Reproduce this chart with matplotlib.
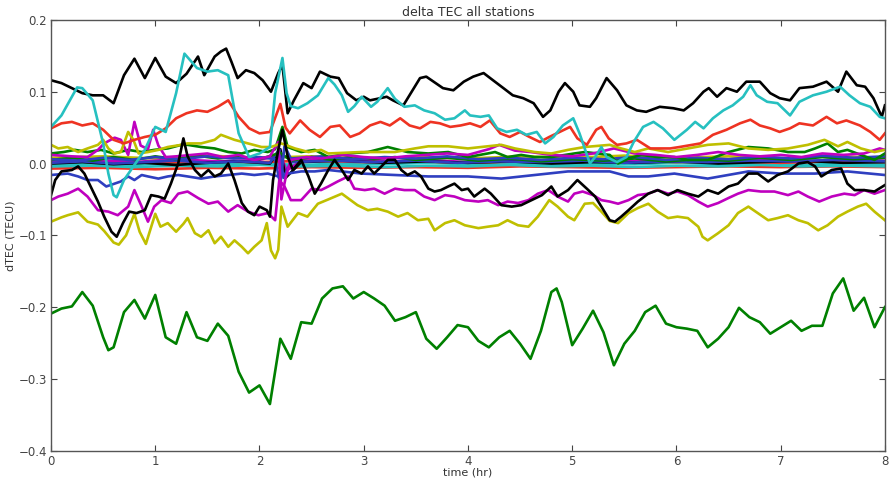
import matplotlib
matplotlib.use("Agg")
import matplotlib.pyplot as plt

# dTEC series per station: (time in hours, dTEC in TECU)
black_top = [(0, 0.116), (0.1, 0.112), (0.2, 0.105), (0.3, 0.098), (0.4, 0.095), (0.5, 0.095),
             (0.6, 0.084), (0.7, 0.123), (0.8, 0.146), (0.9, 0.119), (1.0, 0.147), (1.1, 0.121),
             (1.2, 0.112), (1.3, 0.125), (1.41, 0.149), (1.47, 0.123), (1.57, 0.149), (1.63, 0.156),
             (1.68, 0.16), (1.73, 0.142), (1.79, 0.119), (1.87, 0.13), (1.95, 0.126), (2.03, 0.116),
             (2.11, 0.1), (2.18, 0.126), (2.22, 0.137), (2.27, 0.07), (2.33, 0.088), (2.42, 0.112),
             (2.5, 0.105), (2.58, 0.128), (2.68, 0.121), (2.76, 0.119), (2.84, 0.098), (2.93, 0.088),
             (3.0, 0.093), (3.06, 0.088), (3.16, 0.091), (3.22, 0.093), (3.28, 0.088), (3.38, 0.081),
             (3.46, 0.1), (3.54, 0.119), (3.6, 0.121), (3.67, 0.114), (3.76, 0.105), (3.86, 0.102),
             (3.96, 0.114), (4.05, 0.121), (4.15, 0.126), (4.24, 0.116), (4.34, 0.105), (4.43, 0.095),
             (4.53, 0.091), (4.63, 0.084), (4.72, 0.065), (4.79, 0.074), (4.87, 0.1), (4.93, 0.112),
             (5.01, 0.1), (5.07, 0.081), (5.17, 0.079), (5.23, 0.091), (5.33, 0.119), (5.43, 0.102),
             (5.52, 0.081), (5.62, 0.074), (5.71, 0.072), (5.84, 0.079), (5.97, 0.077), (6.07, 0.074),
             (6.16, 0.084), (6.26, 0.1), (6.31, 0.105), (6.39, 0.093), (6.48, 0.105), (6.58, 0.1),
             (6.67, 0.114), (6.8, 0.114), (6.9, 0.098), (6.99, 0.091), (7.09, 0.088), (7.18, 0.105),
             (7.31, 0.107), (7.44, 0.114), (7.55, 0.1), (7.63, 0.128), (7.73, 0.109), (7.81, 0.107),
             (7.89, 0.091), (7.97, 0.065), (8.0, 0.081)]

cyan_big = [(0, 0.051), (0.1, 0.067), (0.2, 0.093), (0.25, 0.106), (0.3, 0.105), (0.4, 0.088),
            (0.5, 0.028), (0.55, -0.014), (0.6, -0.044), (0.63, -0.047), (0.7, -0.023), (0.8, -0.002),
            (0.9, 0.019), (1.0, 0.051), (1.1, 0.044), (1.2, 0.098), (1.28, 0.153), (1.4, 0.133),
            (1.5, 0.128), (1.6, 0.13), (1.7, 0.123), (1.8, 0.042), (1.9, 0.009), (2.0, 0.014),
            (2.1, 0.023), (2.15, 0.098), (2.22, 0.147), (2.26, 0.098), (2.3, 0.08), (2.37, 0.077),
            (2.46, 0.084), (2.56, 0.095), (2.66, 0.119), (2.72, 0.11), (2.79, 0.095), (2.85, 0.072),
            (2.91, 0.08), (2.98, 0.093), (3.07, 0.079), (3.13, 0.086), (3.23, 0.105), (3.3, 0.09),
            (3.39, 0.079), (3.49, 0.081), (3.58, 0.074), (3.68, 0.07), (3.78, 0.061), (3.87, 0.063),
            (3.97, 0.074), (4.02, 0.067), (4.12, 0.065), (4.2, 0.067), (4.28, 0.049), (4.37, 0.044),
            (4.47, 0.047), (4.56, 0.04), (4.66, 0.044), (4.74, 0.028), (4.82, 0.037), (4.91, 0.053),
            (5.01, 0.063), (5.07, 0.042), (5.17, 0.0), (5.22, 0.009), (5.28, 0.023), (5.33, 0.009),
            (5.43, 0.002), (5.52, 0.009), (5.59, 0.03), (5.68, 0.051), (5.78, 0.058), (5.87, 0.049),
            (5.98, 0.033), (6.1, 0.047), (6.18, 0.058), (6.26, 0.049), (6.35, 0.063), (6.45, 0.074),
            (6.54, 0.081), (6.64, 0.093), (6.71, 0.109), (6.77, 0.095), (6.87, 0.086), (6.97, 0.084),
            (7.09, 0.067), (7.18, 0.086), (7.31, 0.095), (7.44, 0.1), (7.57, 0.107), (7.66, 0.095),
            (7.76, 0.084), (7.86, 0.079), (7.95, 0.065), (8.0, 0.063)]

red_big = [(0, 0.049), (0.1, 0.056), (0.2, 0.058), (0.3, 0.053), (0.4, 0.056), (0.5, 0.047),
           (0.6, 0.033), (0.7, 0.028), (0.8, 0.033), (0.9, 0.037), (1.0, 0.04), (1.1, 0.049),
           (1.2, 0.063), (1.3, 0.07), (1.4, 0.074), (1.5, 0.072), (1.6, 0.079), (1.7, 0.088),
           (1.8, 0.065), (1.9, 0.049), (2.0, 0.042), (2.1, 0.044), (2.2, 0.083), (2.25, 0.05),
           (2.29, 0.042), (2.39, 0.06), (2.48, 0.047), (2.58, 0.037), (2.68, 0.051), (2.77, 0.053),
           (2.87, 0.037), (2.96, 0.042), (3.06, 0.053), (3.16, 0.058), (3.25, 0.053), (3.35, 0.063),
           (3.44, 0.053), (3.54, 0.049), (3.64, 0.058), (3.73, 0.056), (3.83, 0.051), (3.93, 0.053),
           (4.02, 0.056), (4.12, 0.051), (4.21, 0.06), (4.31, 0.042), (4.4, 0.037), (4.5, 0.044),
           (4.59, 0.037), (4.69, 0.03), (4.78, 0.037), (4.88, 0.044), (4.98, 0.051), (5.05, 0.035),
           (5.14, 0.026), (5.23, 0.047), (5.28, 0.051), (5.35, 0.035), (5.43, 0.026), (5.52, 0.028),
           (5.62, 0.033), (5.75, 0.021), (5.94, 0.021), (6.03, 0.023), (6.23, 0.028), (6.35, 0.04),
           (6.48, 0.047), (6.61, 0.056), (6.71, 0.061), (6.8, 0.053), (6.9, 0.049), (6.99, 0.044),
           (7.09, 0.049), (7.18, 0.056), (7.31, 0.053), (7.44, 0.065), (7.54, 0.056), (7.63, 0.06),
           (7.76, 0.053), (7.86, 0.044), (7.95, 0.033), (8.0, 0.042)]

yellow_low = [(0, -0.081), (0.1, -0.075), (0.16, -0.072), (0.26, -0.068), (0.35, -0.081), (0.45, -0.085),
              (0.51, -0.094), (0.6, -0.11), (0.65, -0.113), (0.72, -0.1), (0.8, -0.07), (0.85, -0.095),
              (0.91, -0.112), (1.0, -0.07), (1.05, -0.088), (1.12, -0.083), (1.2, -0.095), (1.27, -0.084),
              (1.31, -0.076), (1.38, -0.097), (1.44, -0.102), (1.51, -0.093), (1.57, -0.111), (1.63, -0.102),
              (1.7, -0.116), (1.76, -0.107), (1.83, -0.116), (1.89, -0.125), (1.95, -0.116), (2.02, -0.107),
              (2.07, -0.083), (2.11, -0.121), (2.15, -0.132), (2.18, -0.12), (2.21, -0.06), (2.27, -0.088),
              (2.37, -0.069), (2.46, -0.074), (2.56, -0.056), (2.66, -0.05), (2.79, -0.042), (2.94, -0.058),
              (3.04, -0.065), (3.13, -0.063), (3.23, -0.067), (3.33, -0.074), (3.42, -0.069), (3.52, -0.079),
              (3.62, -0.077), (3.68, -0.093), (3.78, -0.083), (3.87, -0.079), (3.97, -0.086), (4.1, -0.09),
              (4.19, -0.088), (4.29, -0.086), (4.38, -0.079), (4.48, -0.086), (4.58, -0.088), (4.67, -0.074),
              (4.78, -0.051), (4.86, -0.06), (4.96, -0.074), (5.02, -0.079), (5.12, -0.056), (5.2, -0.055),
              (5.28, -0.067), (5.36, -0.08), (5.44, -0.083), (5.54, -0.069), (5.63, -0.062), (5.73, -0.056),
              (5.82, -0.067), (5.92, -0.076), (6.01, -0.074), (6.11, -0.076), (6.21, -0.088), (6.25, -0.102),
              (6.3, -0.107), (6.4, -0.097), (6.5, -0.086), (6.59, -0.069), (6.69, -0.06), (6.78, -0.069),
              (6.88, -0.079), (6.97, -0.076), (7.07, -0.072), (7.17, -0.079), (7.26, -0.083), (7.36, -0.093),
              (7.45, -0.086), (7.55, -0.074), (7.64, -0.067), (7.74, -0.06), (7.82, -0.056), (7.9, -0.067),
              (8.0, -0.079)]

magenta_low = [(0, -0.051), (0.07, -0.046), (0.16, -0.042), (0.26, -0.035), (0.35, -0.046), (0.45, -0.065),
               (0.55, -0.067), (0.64, -0.072), (0.74, -0.06), (0.8, -0.037), (0.87, -0.06), (0.93, -0.081),
               (0.99, -0.06), (1.06, -0.051), (1.15, -0.055), (1.22, -0.042), (1.31, -0.039), (1.41, -0.048),
               (1.51, -0.056), (1.6, -0.053), (1.7, -0.067), (1.79, -0.058), (1.89, -0.067), (1.99, -0.072),
               (2.08, -0.069), (2.15, -0.079), (2.19, -0.023), (2.24, -0.032), (2.3, -0.051), (2.4, -0.051),
               (2.5, -0.035), (2.59, -0.037), (2.66, -0.032), (2.75, -0.025), (2.85, -0.018), (2.91, -0.035),
               (3.01, -0.037), (3.1, -0.035), (3.2, -0.042), (3.3, -0.035), (3.39, -0.037), (3.49, -0.037),
               (3.58, -0.046), (3.68, -0.051), (3.78, -0.044), (3.87, -0.046), (3.97, -0.051), (4.1, -0.053),
               (4.19, -0.051), (4.29, -0.058), (4.38, -0.053), (4.48, -0.055), (4.58, -0.051), (4.67, -0.042),
               (4.77, -0.037), (4.86, -0.046), (4.96, -0.053), (5.02, -0.042), (5.1, -0.039), (5.2, -0.044),
               (5.28, -0.051), (5.36, -0.053), (5.44, -0.056), (5.54, -0.051), (5.63, -0.044), (5.73, -0.042),
               (5.82, -0.037), (5.92, -0.042), (6.01, -0.039), (6.11, -0.044), (6.21, -0.053), (6.3, -0.06),
               (6.4, -0.055), (6.5, -0.048), (6.59, -0.042), (6.69, -0.037), (6.81, -0.039), (6.94, -0.039),
               (7.07, -0.044), (7.17, -0.039), (7.26, -0.046), (7.37, -0.053), (7.49, -0.046), (7.61, -0.042),
               (7.71, -0.044), (7.8, -0.037), (7.9, -0.042), (8.0, -0.037)]

black_low = [(0, -0.044), (0.04, -0.023), (0.1, -0.011), (0.2, -0.009), (0.26, -0.004), (0.32, -0.014),
             (0.39, -0.035), (0.45, -0.053), (0.51, -0.074), (0.58, -0.095), (0.63, -0.102), (0.69, -0.083),
             (0.75, -0.067), (0.82, -0.069), (0.9, -0.065), (0.96, -0.044), (1.03, -0.046), (1.09, -0.049),
             (1.15, -0.028), (1.22, 0.0), (1.27, 0.035), (1.31, 0.01), (1.38, -0.009), (1.44, -0.018),
             (1.51, -0.009), (1.57, -0.018), (1.63, -0.014), (1.7, 0.0), (1.76, -0.023), (1.83, -0.055),
             (1.89, -0.067), (1.95, -0.072), (2.0, -0.06), (2.07, -0.065), (2.1, -0.074), (2.13, -0.023),
             (2.18, 0.019), (2.22, 0.047), (2.27, 0.01), (2.32, -0.009), (2.4, 0.005), (2.47, -0.018),
             (2.53, -0.042), (2.59, -0.028), (2.66, -0.009), (2.72, 0.005), (2.79, -0.009), (2.85, -0.023),
             (2.91, -0.009), (2.98, -0.014), (3.04, -0.004), (3.1, -0.014), (3.17, -0.004), (3.23, 0.005),
             (3.3, 0.005), (3.36, -0.009), (3.42, -0.016), (3.49, -0.011), (3.55, -0.018), (3.62, -0.035),
             (3.68, -0.039), (3.74, -0.037), (3.81, -0.032), (3.87, -0.028), (3.94, -0.037), (4.0, -0.035),
             (4.06, -0.046), (4.16, -0.035), (4.22, -0.042), (4.32, -0.058), (4.42, -0.06), (4.51, -0.058),
             (4.61, -0.051), (4.71, -0.044), (4.8, -0.032), (4.86, -0.046), (4.96, -0.037), (5.05, -0.023),
             (5.14, -0.035), (5.22, -0.046), (5.28, -0.06), (5.36, -0.079), (5.41, -0.081), (5.47, -0.074),
             (5.54, -0.065), (5.63, -0.053), (5.73, -0.042), (5.82, -0.037), (5.92, -0.044), (6.01, -0.037),
             (6.11, -0.042), (6.21, -0.046), (6.3, -0.037), (6.4, -0.042), (6.5, -0.032), (6.59, -0.028),
             (6.69, -0.014), (6.78, -0.014), (6.88, -0.025), (6.97, -0.016), (7.07, -0.011), (7.17, 0.0),
             (7.26, 0.002), (7.33, -0.004), (7.39, -0.018), (7.49, -0.009), (7.58, -0.007), (7.64, -0.028),
             (7.71, -0.037), (7.8, -0.037), (7.9, -0.039), (8.0, -0.03)]

blue_low = [(0, -0.016), (0.16, -0.014), (0.26, -0.018), (0.35, -0.023), (0.45, -0.023), (0.53, -0.032),
            (0.61, -0.028), (0.67, -0.025), (0.74, -0.018), (0.8, -0.023), (0.87, -0.016), (0.93, -0.018),
            (1.03, -0.021), (1.12, -0.018), (1.22, -0.016), (1.31, -0.018), (1.44, -0.021), (1.57, -0.018),
            (1.7, -0.016), (1.83, -0.014), (1.95, -0.016), (2.08, -0.014), (2.18, -0.018), (2.27, -0.014),
            (2.4, -0.011), (2.53, -0.011), (2.66, -0.009), (2.98, -0.014), (3.3, -0.016), (3.62, -0.018),
            (4.0, -0.018), (4.32, -0.021), (4.64, -0.016), (4.96, -0.011), (5.36, -0.011), (5.54, -0.018),
            (5.73, -0.018), (5.98, -0.014), (6.3, -0.021), (6.69, -0.011), (7.0, -0.014), (7.33, -0.014),
            (7.64, -0.011), (8.0, -0.016)]

yellow_up = [(0, 0.026), (0.07, 0.021), (0.16, 0.023), (0.26, 0.016), (0.35, 0.021), (0.45, 0.026),
             (0.5, 0.033), (0.55, 0.021), (0.61, 0.014), (0.67, 0.016), (0.74, 0.044), (0.79, 0.033),
             (0.84, 0.014), (0.93, 0.016), (1.03, 0.019), (1.12, 0.023), (1.25, 0.026), (1.31, 0.028),
             (1.44, 0.028), (1.57, 0.033), (1.63, 0.04), (1.76, 0.033), (1.89, 0.028), (2.02, 0.023),
             (2.11, 0.023), (2.21, 0.028), (2.34, 0.021), (2.47, 0.016), (2.59, 0.019), (2.66, 0.014),
             (2.98, 0.016), (3.3, 0.016), (3.49, 0.021), (3.62, 0.024), (3.81, 0.024), (4.0, 0.021),
             (4.19, 0.024), (4.32, 0.026), (4.45, 0.021), (4.64, 0.016), (4.8, 0.014), (4.96, 0.019),
             (5.12, 0.023), (5.36, 0.026), (5.47, 0.021), (5.6, 0.016), (5.73, 0.021), (5.92, 0.016),
             (6.11, 0.021), (6.3, 0.026), (6.5, 0.028), (6.69, 0.021), (6.88, 0.019), (7.07, 0.021),
             (7.26, 0.026), (7.42, 0.033), (7.55, 0.024), (7.64, 0.03), (7.77, 0.021), (7.9, 0.016),
             (8.0, 0.019)]

magenta_up = [(0, 0.012), (0.2, 0.01), (0.35, 0.009), (0.45, 0.019), (0.51, 0.028), (0.61, 0.036),
              (0.67, 0.033), (0.74, 0.012), (0.8, 0.058), (0.86, 0.025), (0.93, 0.02), (0.98, 0.047),
              (1.03, 0.025), (1.1, 0.009), (1.2, 0.01), (1.35, 0.012), (1.5, 0.014), (1.65, 0.009),
              (1.8, 0.012), (1.95, 0.005), (2.1, 0.01), (2.18, 0.03), (2.21, -0.05), (2.25, -0.02),
              (2.3, 0.005), (2.45, 0.009), (2.6, 0.007), (2.8, 0.012), (3.0, 0.009), (3.2, 0.007),
              (3.4, 0.01), (3.6, 0.012), (3.8, 0.014), (4.0, 0.012), (4.2, 0.02), (4.3, 0.026),
              (4.45, 0.018), (4.6, 0.016), (4.8, 0.012), (5.0, 0.01), (5.2, 0.014), (5.4, 0.021),
              (5.6, 0.014), (5.8, 0.012), (6.0, 0.009), (6.2, 0.012), (6.4, 0.016), (6.6, 0.012),
              (6.8, 0.01), (7.0, 0.012), (7.2, 0.009), (7.4, 0.014), (7.6, 0.012), (7.8, 0.014),
              (7.95, 0.021), (8.0, 0.019)]

green_up = [(0, 0.014), (0.12, 0.016), (0.23, 0.019), (0.35, 0.016), (0.48, 0.019), (0.6, 0.014),
            (0.74, 0.019), (0.87, 0.016), (0.99, 0.019), (1.12, 0.021), (1.25, 0.026), (1.31, 0.026),
            (1.44, 0.023), (1.57, 0.021), (1.7, 0.016), (1.83, 0.014), (1.95, 0.019), (2.08, 0.016),
            (2.15, 0.02), (2.22, 0.051), (2.27, 0.023), (2.4, 0.016), (2.53, 0.019), (2.66, 0.009),
            (2.85, 0.014), (3.04, 0.016), (3.23, 0.023), (3.42, 0.016), (3.62, 0.014), (3.81, 0.016),
            (4.0, 0.009), (4.19, 0.014), (4.26, 0.016), (4.38, 0.009), (4.51, 0.012), (4.64, 0.009),
            (4.8, 0.009), (5.02, 0.014), (5.12, 0.016), (5.36, 0.012), (5.44, 0.0), (5.54, 0.007),
            (5.66, 0.012), (5.82, 0.009), (5.98, 0.009), (6.11, 0.005), (6.3, 0.005), (6.5, 0.016),
            (6.69, 0.023), (6.88, 0.021), (7.07, 0.016), (7.23, 0.016), (7.33, 0.021), (7.45, 0.028),
            (7.55, 0.016), (7.64, 0.019), (7.77, 0.012), (7.9, 0.005), (8.0, 0.014)]

green_low = [(0, -0.209), (0.1, -0.202), (0.2, -0.199), (0.3, -0.179), (0.4, -0.198), (0.5, -0.242),
             (0.55, -0.26), (0.6, -0.256), (0.7, -0.207), (0.8, -0.19), (0.9, -0.216), (1.0, -0.183),
             (1.1, -0.242), (1.2, -0.251), (1.3, -0.207), (1.4, -0.242), (1.5, -0.247), (1.6, -0.223),
             (1.7, -0.24), (1.8, -0.29), (1.9, -0.319), (2.0, -0.309), (2.1, -0.335), (2.2, -0.244),
             (2.3, -0.272), (2.4, -0.221), (2.5, -0.223), (2.6, -0.188), (2.7, -0.174), (2.8, -0.171),
             (2.9, -0.188), (3.0, -0.179), (3.1, -0.188), (3.2, -0.198), (3.3, -0.219), (3.4, -0.214),
             (3.5, -0.207), (3.6, -0.244), (3.7, -0.258), (3.8, -0.242), (3.9, -0.225), (4.0, -0.228),
             (4.1, -0.247), (4.2, -0.256), (4.3, -0.242), (4.4, -0.233), (4.5, -0.251), (4.6, -0.272),
             (4.7, -0.233), (4.8, -0.179), (4.85, -0.174), (4.9, -0.193), (5.0, -0.253), (5.1, -0.23),
             (5.2, -0.205), (5.3, -0.235), (5.4, -0.281), (5.5, -0.251), (5.6, -0.233), (5.7, -0.207),
             (5.8, -0.198), (5.9, -0.223), (6.0, -0.228), (6.1, -0.23), (6.2, -0.233), (6.3, -0.256),
             (6.4, -0.244), (6.5, -0.228), (6.6, -0.201), (6.7, -0.214), (6.8, -0.221), (6.9, -0.237),
             (7.0, -0.228), (7.1, -0.219), (7.2, -0.233), (7.3, -0.226), (7.4, -0.226), (7.5, -0.181),
             (7.6, -0.16), (7.7, -0.205), (7.8, -0.187), (7.9, -0.228), (8.0, -0.2)]

# stations that stay close to zero
blue_z1 = [(0, 0.006), (0.25, 0.004), (0.5, 0.008), (0.75, 0.005), (1.0, 0.009), (1.25, 0.006),
           (1.5, 0.01), (1.75, 0.007), (2.0, 0.009), (2.15, 0.006), (2.2, -0.03), (2.24, 0.025),
           (2.3, 0.007), (2.6, 0.01), (2.9, 0.006), (3.2, 0.009), (3.5, 0.007), (3.8, 0.01),
           (4.1, 0.006), (4.4, 0.008), (4.7, 0.005), (5.0, 0.008), (5.3, 0.006), (5.6, 0.009),
           (5.9, 0.005), (6.2, 0.008), (6.5, 0.006), (6.8, 0.01), (7.1, 0.007), (7.4, 0.011),
           (7.7, 0.008), (8.0, 0.01)]
blue_z2 = [(0, 0.001), (0.3, 0.003), (0.6, 0.0), (0.9, 0.002), (1.2, 0.004), (1.5, 0.001),
           (1.8, 0.003), (2.1, 0.001), (2.19, 0.02), (2.23, -0.02), (2.3, 0.002), (2.7, 0.004),
           (3.1, 0.002), (3.5, 0.004), (3.9, 0.001), (4.3, 0.003), (4.7, 0.002), (5.1, 0.004),
           (5.5, 0.001), (5.9, 0.003), (6.3, 0.002), (6.7, 0.004), (7.1, 0.003), (7.5, 0.005),
           (8.0, 0.003)]
green_z = [(0, 0.005), (0.2, 0.008), (0.4, 0.004), (0.6, 0.009), (0.8, 0.005), (1.0, 0.01),
           (1.2, 0.006), (1.4, 0.011), (1.6, 0.007), (1.8, 0.01), (2.0, 0.006), (2.2, 0.015),
           (2.3, 0.004), (2.5, 0.009), (2.7, 0.005), (2.9, 0.01), (3.1, 0.006), (3.3, 0.009),
           (3.5, 0.005), (3.8, 0.008), (4.1, 0.004), (4.4, 0.007), (4.7, 0.003), (5.0, 0.006),
           (5.3, 0.004), (5.6, 0.007), (5.9, 0.003), (6.2, 0.006), (6.5, 0.004), (6.8, 0.008),
           (7.1, 0.005), (7.4, 0.009), (7.7, 0.006), (8.0, 0.008)]
red_z1 = [(0, -0.007), (0.5, -0.006), (1.0, -0.008), (1.5, -0.006), (2.0, -0.007), (2.5, -0.005),
          (3.0, -0.006), (3.5, -0.005), (4.0, -0.006), (4.5, -0.004), (5.0, -0.005), (5.5, -0.006),
          (6.0, -0.005), (6.5, -0.004), (7.0, -0.005), (7.5, -0.004), (8.0, -0.005)]
red_z2 = [(0, 0.002), (0.5, 0.003), (1.0, 0.001), (1.5, 0.003), (2.0, 0.002), (2.5, 0.004),
          (3.0, 0.002), (3.5, 0.003), (4.0, 0.001), (4.5, 0.003), (5.0, 0.002), (5.5, 0.004),
          (6.0, 0.002), (6.5, 0.003), (7.0, 0.001), (7.5, 0.003), (8.0, 0.002)]
cyan_z1 = [(0, -0.004), (0.4, -0.003), (0.8, -0.005), (1.2, -0.003), (1.6, -0.004), (2.0, -0.002),
           (2.4, -0.004), (2.8, -0.003), (3.2, -0.005), (3.6, -0.003), (4.0, -0.004), (4.4, -0.002),
           (4.8, -0.004), (5.2, -0.003), (5.6, -0.005), (6.0, -0.003), (6.4, -0.004), (6.8, -0.002),
           (7.2, -0.004), (7.6, -0.003), (8.0, -0.004)]
cyan_z2 = [(0, -0.001), (0.4, 0.0), (0.8, -0.002), (1.2, 0.001), (1.6, -0.001), (2.0, 0.0),
           (2.4, -0.002), (2.8, 0.0), (3.2, -0.001), (3.6, 0.001), (4.0, -0.001), (4.4, 0.0),
           (4.8, -0.002), (5.2, 0.0), (5.6, -0.001), (6.0, 0.001), (6.4, -0.001), (6.8, 0.0),
           (7.2, -0.002), (7.6, 0.0), (8.0, -0.001)]
magenta_z = [(0, 0.003), (0.4, 0.005), (0.8, 0.002), (1.2, 0.006), (1.6, 0.003), (2.0, 0.005),
             (2.2, 0.012), (2.26, -0.01), (2.4, 0.004), (2.8, 0.006), (3.2, 0.003), (3.6, 0.005),
             (4.0, 0.002), (4.4, 0.005), (4.8, 0.003), (5.2, 0.006), (5.6, 0.003), (6.0, 0.005),
             (6.4, 0.002), (6.8, 0.005), (7.2, 0.003), (7.6, 0.006), (8.0, 0.004)]
yellow_z = [(0, 0.008), (0.5, 0.01), (1.0, 0.007), (1.5, 0.011), (2.0, 0.008), (2.5, 0.01),
            (3.0, 0.007), (3.5, 0.009), (4.0, 0.007), (4.5, 0.01), (5.0, 0.008), (5.5, 0.011),
            (6.0, 0.008), (6.5, 0.01), (7.0, 0.007), (7.5, 0.01), (8.0, 0.008)]
black_z = [(0, 0.0), (0.3, 0.002), (0.6, -0.001), (0.9, 0.001), (1.2, -0.002), (1.5, 0.001),
           (1.8, 0.003), (2.1, 0.0), (2.2, 0.02), (2.25, -0.02), (2.4, 0.002), (2.8, 0.004),
           (3.2, 0.001), (3.6, 0.003), (4.0, 0.001), (4.4, 0.003), (4.8, 0.0), (5.2, 0.002),
           (5.6, 0.001), (6.0, 0.003), (6.4, 0.0), (6.8, 0.002), (7.2, 0.004), (7.6, 0.001),
           (8.0, 0.002)]

B, G, R, C, M, Y, K = "#2f3fc0", "#008000", "#ee3322", "#26c0c0", "#bf00bf", "#bfbf00", "#000000"

stations = [
    (cyan_z2, C), (red_z1, R), (cyan_z1, C), (red_z2, R), (yellow_z, Y), (magenta_z, M),
    (black_z, K), (blue_z2, B), (green_z, G), (blue_z1, B),
    (blue_low, B), (green_up, G), (magenta_up, M), (yellow_up, Y),
    (green_low, G), (red_big, R), (magenta_low, M), (yellow_low, Y),
    (black_low, K), (black_top, K), (cyan_big, C),
]

fig = plt.figure(figsize=(8.89, 4.8), dpi=100)
ax = fig.add_axes([0.0574, 0.061, 0.938, 0.8975])

for series, color in stations:
    t = [p[0] for p in series]
    v = [p[1] for p in series]
    ax.plot(t, v, color=color, lw=1.9, solid_joinstyle="round")

ax.set_xlim(0, 8)
ax.set_ylim(-0.4, 0.2)
ax.set_xticks(range(0, 9))
ax.set_yticks([-0.4, -0.3, -0.2, -0.1, 0.0, 0.1, 0.2])
ax.tick_params(direction="in", top=True, right=True, length=4, width=0.8,
               labelsize=8.5, colors="#444444", pad=3)
for s in ax.spines.values():
    s.set_color("#555555")
    s.set_linewidth(1.0)

ax.set_title("delta TEC all stations", fontsize=9, color="#333333", pad=3)
ax.set_xlabel("time (hr)", fontsize=8, color="#333333", labelpad=0)
ax.set_ylabel("dTEC (TECU)", fontsize=8, color="#333333", labelpad=2)

fig.savefig("out.png", dpi=100)
